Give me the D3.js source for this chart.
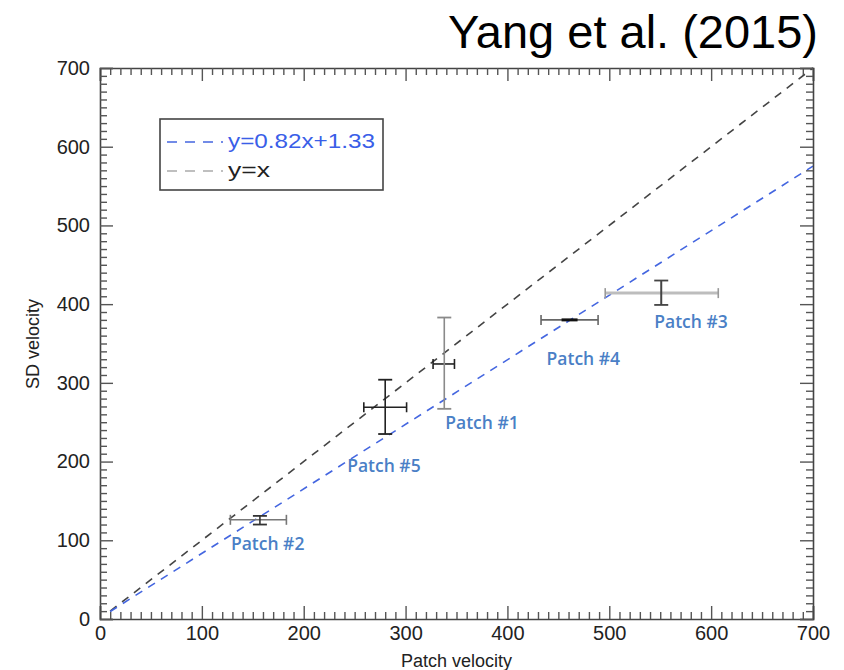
<!DOCTYPE html>
<html><head><meta charset="utf-8">
<script src="https://cdn.jsdelivr.net/npm/d3@7"></script>
<style>body{margin:0;background:#fff}svg{display:block}</style>
</head><body>
<svg id="c" width="844" height="670"></svg>
<script>
// ---- data ----
const patchNames = ["Patch #1", "Patch #2", "Patch #3", "Patch #4", "Patch #5"];
const patchX     = [338, 157, 551, 461, 280];
const patchXLow  = [327, 128, 496, 433, 259];
const patchXHigh = [348, 183, 607, 489, 301];
const patchY     = [324, 126, 414, 380, 269];
const patchYLow  = [267, 120, 399, 379, 235];
const patchYHigh = [383, 131, 430, 381, 304];
const xTicks = [0, 100, 200, 300, 400, 500, 600, 700];
const yTicks = [0, 100, 200, 300, 400, 500, 600, 700];
const fitSlope = 0.82, fitIntercept = 1.33;
const fitLabel = "y=0.82x+1.33", idLabel = "y=x";
const lineXRange = [10, 700];

// ---- styles (per patch) ----
const hColor = ["#222", "#777", "#bdbdbd", "#666", "#222"];
const hWidth = [1.6, 1.6, 3, 1.8, 1.6];
const vColor = ["#8a8a8a", "#333", "#444", "#111", "#222"];
const vWidth = [1.6, 1.6, 2, 3, 1.6];
const labelDx = [1, -29, -7, -23, -38];
const labelDy = [60, 25, 30, 40, 60];

const svg = d3.select("#c");
const L = 100, R = 813, T = 68, B = 619;
const x = d3.scaleLinear().domain([0, 700]).range([L, R]);
const y = d3.scaleLinear().domain([0, 700]).range([B, T]);

// title
svg.append("text").attr("x", 818).attr("y", 48).attr("text-anchor", "end")
  .attr("font-family", "Liberation Sans, Arial, sans-serif").attr("font-size", 46)
  .attr("textLength", 370).attr("lengthAdjust", "spacingAndGlyphs")
  .attr("fill", "#000").text("Yang et al. (2015)");

// lines
const lx = lineXRange;
const line = d3.line().x(d => x(d[0])).y(d => y(d[1]));
svg.append("path").attr("d", line(lx.map(v => [v, v])))
  .attr("stroke", "#444").attr("stroke-width", 1.6).attr("fill", "none")
  .attr("stroke-dasharray", "8,7");
svg.append("path").attr("d", line(lx.map(v => [v, fitSlope * v + fitIntercept])))
  .attr("stroke", "#4466e0").attr("stroke-width", 1.6).attr("fill", "none")
  .attr("stroke-dasharray", "8,7");

// error bars
const minorVals = d3.range(0, 701, 10).filter(v => v % 100 !== 0);
patchNames.forEach((n, i) => {
  const g = svg.append("g");
  const cy = y(patchY[i]), cx = x(patchX[i]);
  g.append("line").attr("x1", x(patchXLow[i])).attr("x2", x(patchXHigh[i]))
    .attr("y1", cy).attr("y2", cy).attr("stroke", hColor[i]).attr("stroke-width", hWidth[i]);
  [patchXLow[i], patchXHigh[i]].forEach(v => {
    g.append("line").attr("x1", x(v)).attr("x2", x(v)).attr("y1", cy - 5).attr("y2", cy + 5)
      .attr("stroke", hColor[i] === "#bdbdbd" ? "#999" : hColor[i]).attr("stroke-width", 1.6);
  });
  g.append("line").attr("x1", cx).attr("x2", cx)
    .attr("y1", y(patchYLow[i])).attr("y2", y(patchYHigh[i]))
    .attr("stroke", vColor[i]).attr("stroke-width", vWidth[i]);
  if (patchYHigh[i] - patchYLow[i] > 3) {
    [patchYLow[i], patchYHigh[i]].forEach(v => {
      g.append("line").attr("x1", cx - 7).attr("x2", cx + 7).attr("y1", y(v)).attr("y2", y(v))
        .attr("stroke", vColor[i]).attr("stroke-width", 1.8);
    });
  } else {
    g.append("line").attr("x1", cx - 8).attr("x2", cx + 8).attr("y1", cy).attr("y2", cy)
      .attr("stroke", "#111").attr("stroke-width", 3);
  }
  g.append("text").attr("x", cx + labelDx[i]).attr("y", cy + labelDy[i])
    .attr("dominant-baseline", "middle")
    .attr("font-family", "Open Sans, Noto Sans, sans-serif").attr("font-size", 17.5)
    .attr("font-weight", 600)
    .attr("fill", "#4a7fc6").text(n);
});

// axes
const axisColor = "#444";
function styleAxis(g) {
  g.select(".domain").attr("stroke", axisColor).attr("stroke-width", 1.6);
  g.selectAll(".tick line").attr("stroke", "#555").attr("stroke-width", 1.4);
  g.selectAll("text").attr("font-family", "Liberation Sans, Arial, sans-serif")
    .attr("font-size", 20).attr("fill", "#222");
}
svg.append("g").attr("transform", `translate(0,${B})`)
  .call(d3.axisBottom(x).tickValues(xTicks).tickSize(-13).tickPadding(7).tickFormat(d3.format("d")))
  .call(styleAxis);
svg.append("g").attr("transform", `translate(0,${B})`)
  .call(d3.axisBottom(x).tickValues(minorVals).tickSize(-7).tickFormat(""))
  .call(styleAxis).select(".domain").remove();
svg.append("g").attr("transform", `translate(0,${T})`)
  .call(d3.axisTop(x).tickValues(xTicks).tickSize(-13).tickFormat(""))
  .call(styleAxis);
svg.append("g").attr("transform", `translate(0,${T})`)
  .call(d3.axisTop(x).tickValues(minorVals).tickSize(-7).tickFormat(""))
  .call(styleAxis).select(".domain").remove();
svg.append("g").attr("transform", `translate(${L},0)`)
  .call(d3.axisLeft(y).tickValues(yTicks).tickSize(-13).tickPadding(10).tickFormat(d3.format("d")))
  .call(styleAxis);
svg.append("g").attr("transform", `translate(${L},0)`)
  .call(d3.axisLeft(y).tickValues(minorVals).tickSize(-7).tickFormat(""))
  .call(styleAxis).select(".domain").remove();
svg.append("g").attr("transform", `translate(${R},0)`)
  .call(d3.axisRight(y).tickValues(yTicks).tickSize(-13).tickFormat(""))
  .call(styleAxis);
svg.append("g").attr("transform", `translate(${R},0)`)
  .call(d3.axisRight(y).tickValues(minorVals).tickSize(-7).tickFormat(""))
  .call(styleAxis).select(".domain").remove();

// axis titles
svg.append("text").attr("x", (L + R) / 2).attr("y", 667).attr("text-anchor", "middle")
  .attr("font-family", "Liberation Sans, Arial, sans-serif").attr("font-size", 18)
  .attr("fill", "#222").text("Patch velocity");
svg.append("text").attr("transform", `translate(39,344) rotate(-90)`)
  .attr("text-anchor", "middle")
  .attr("font-family", "Liberation Sans, Arial, sans-serif").attr("font-size", 18)
  .attr("fill", "#222").text("SD velocity");

// legend
const lg = svg.append("g");
lg.append("rect").attr("x", 160).attr("y", 119).attr("width", 223).attr("height", 71)
  .attr("fill", "#fff").attr("stroke", "#444").attr("stroke-width", 1.6);
lg.append("line").attr("x1", 167).attr("x2", 223).attr("y1", 142).attr("y2", 142)
  .attr("stroke", "#4466e0").attr("stroke-width", 1.6).attr("stroke-dasharray", "10,8");
lg.append("text").attr("x", 228).attr("y", 142).attr("dominant-baseline", "middle")
  .attr("font-family", "Liberation Sans, Arial, sans-serif").attr("font-size", 21)
  .attr("textLength", 147).attr("lengthAdjust", "spacingAndGlyphs")
  .attr("fill", "#3a5ee8").text(fitLabel);
lg.append("line").attr("x1", 167).attr("x2", 223).attr("y1", 171).attr("y2", 171)
  .attr("stroke", "#aaa").attr("stroke-width", 1.6).attr("stroke-dasharray", "10,8");
lg.append("text").attr("x", 228).attr("y", 171).attr("dominant-baseline", "middle")
  .attr("font-family", "Liberation Sans, Arial, sans-serif").attr("font-size", 21)
  .attr("textLength", 42).attr("lengthAdjust", "spacingAndGlyphs")
  .attr("fill", "#222").text(idLabel);
</script>
</body></html>
